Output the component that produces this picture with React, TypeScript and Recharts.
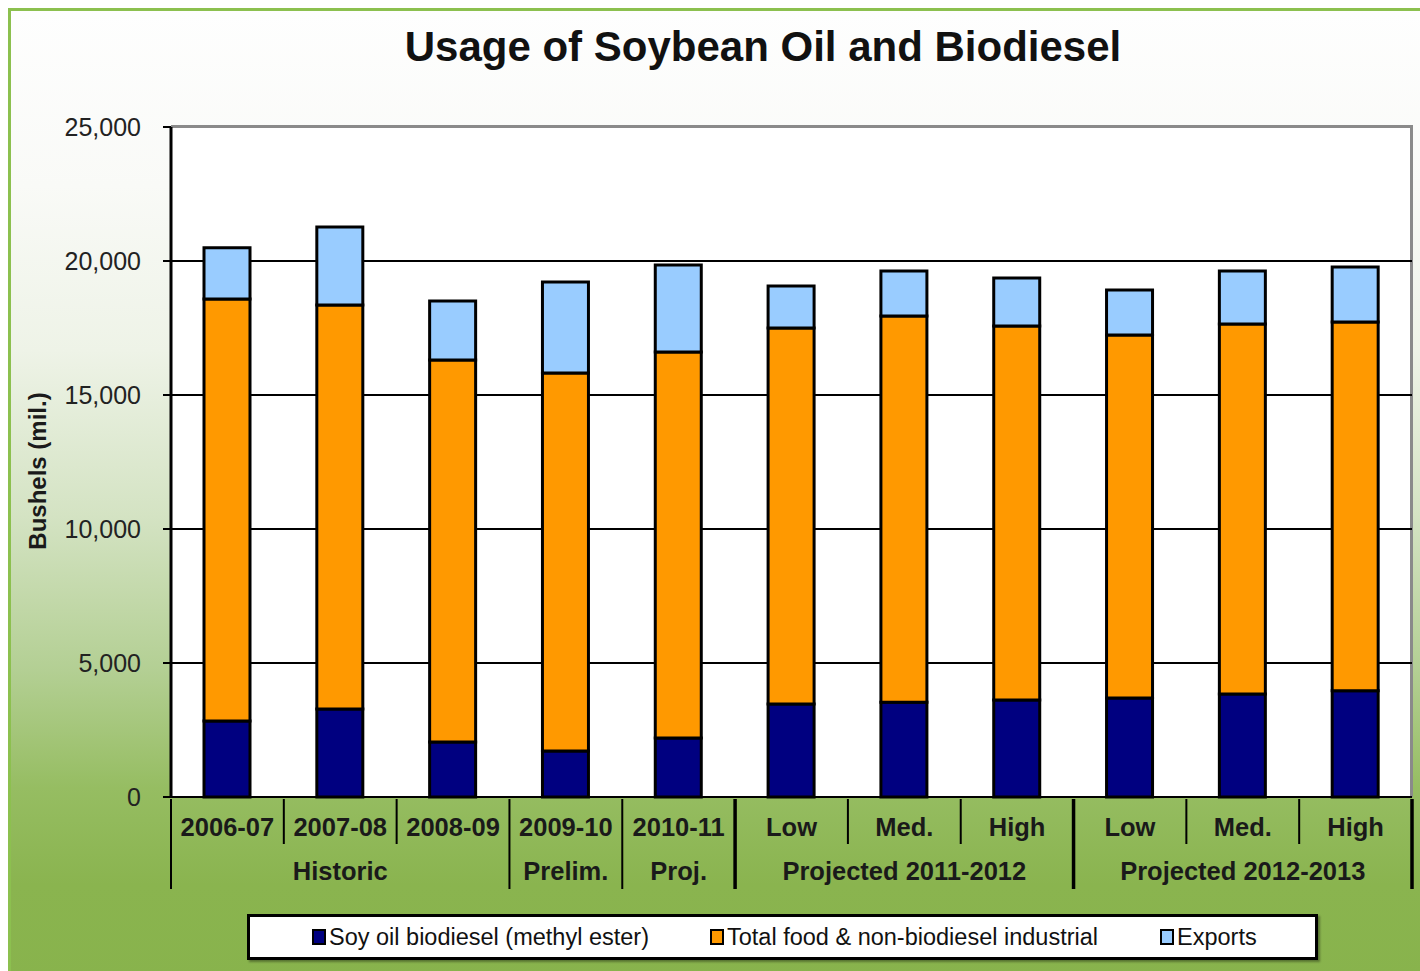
import React from 'react';
import { BarChart, Bar, XAxis, YAxis, CartesianGrid } from 'recharts';

const categories = ['2006-07', '2007-08', '2008-09', '2009-10', '2010-11', 'Low', 'Med.', 'High', 'Low', 'Med.', 'High'];
const groups = ['Historic', 'Historic', 'Historic', 'Prelim.', 'Proj.', 'Projected 2011-2012', 'Projected 2011-2012', 'Projected 2011-2012', 'Projected 2012-2013', 'Projected 2012-2013', 'Projected 2012-2013'];
const biodiesel = [2840, 3280, 2050, 1720, 2200, 3470, 3540, 3620, 3690, 3840, 3960];
const foodIndustrial = [15740, 15080, 14260, 14100, 14400, 14030, 14410, 13950, 13550, 13810, 13760];
const exportsVals = [1910, 2910, 2200, 3400, 3250, 1570, 1680, 1800, 1680, 1980, 2060];
const yTicks = [0, 5000, 10000, 15000, 20000, 25000];

const seriesNames = ['Soy oil biodiesel (methyl ester)', 'Total food & non-biodiesel industrial', 'Exports'];
const seriesColors = ['#000080', '#FF9900', '#99CCFF'];

const data = categories.map((c, i) => ({
  id: String(i),
  bio: biodiesel[i],
  food: foodIndustrial[i],
  exp: exportsVals[i],
}));

const FONT = '"Liberation Sans", Arial, Helvetica, sans-serif';
const W = 1420;
const H = 971;
const M = { top: 127, right: 8, bottom: 74, left: 71 };
const YW = 100;
const XH = 100;
const PLOT_LEFT = M.left + YW;
const PLOT_W = W - M.right - PLOT_LEFT;
const PLOT_TOP = M.top;
const PLOT_H = H - M.top - M.bottom - XH;
const BAND = PLOT_W / categories.length;
const thickBoundaries = new Set([4, 7, 10]);

const XTick = (props: any) => {
  const { x, y, payload } = props;
  const i = Number(payload.value);
  const left = x - BAND / 2;
  const right = x + BAND / 2;
  const groupEnd = i === categories.length - 1 || groups[i] !== groups[i + 1];
  const isMid =
    (i > 0 && groups[i - 1] === groups[i] && i < categories.length - 1 && groups[i + 1] === groups[i]) ||
    ((i === 0 || groups[i - 1] !== groups[i]) && (i === categories.length - 1 || groups[i + 1] !== groups[i]));
  return (
    <g>
      {i === 0 && <line x1={left} x2={left} y1={y} y2={y + 90} stroke="#000" strokeWidth={2} />}
      <line
        x1={right}
        x2={right}
        y1={y}
        y2={groupEnd ? y + 90 : y + 45}
        stroke="#000"
        strokeWidth={thickBoundaries.has(i) ? 3.5 : 2}
      />
      <text x={x} y={y + 28} textAnchor="middle" dominantBaseline="central" fontFamily={FONT} fontWeight="bold" fontSize={25.5} fill="#1a1a1a">
        {categories[i]}
      </text>
      {isMid && (
        <text x={x} y={y + 72} textAnchor="middle" dominantBaseline="central" fontFamily={FONT} fontWeight="bold" fontSize={25.5} fill="#1a1a1a">
          {groups[i]}
        </text>
      )}
    </g>
  );
};

export default function App() {
  return (
    <div style={{ position: 'fixed', left: 0, top: 0, width: W, height: H, overflow: 'hidden', background: '#fff' }}>
      <div
        style={{
          position: 'absolute',
          left: 8,
          top: 8,
          width: W,
          height: H,
          borderLeft: '3px solid #8cc04f',
          borderTop: '3px solid #8cc04f',
          background: 'linear-gradient(to bottom, #fefefe 0%, #f9faf7 18%, #eef3e7 35%, #d4e3c3 52%, #b3cf93 68%, #96bd62 80%, #8ab44f 90%, #88b34c 100%)',
        }}
      />
      <div
        style={{
          position: 'absolute',
          left: PLOT_LEFT,
          top: PLOT_TOP - 2,
          width: PLOT_W + 1,
          height: PLOT_H + 2,
          background: '#fff',
          borderTop: '3px solid #8a8a8a',
          borderRight: '3px solid #8a8a8a',
          boxSizing: 'border-box',
        }}
      />
      <div
        style={{
          position: 'absolute',
          left: 0,
          width: 1526,
          top: 21,
          textAlign: 'center',
          fontFamily: FONT,
          fontWeight: 'bold',
          fontSize: 42,
          lineHeight: '52px',
          color: '#111',
        }}
      >
        Usage of Soybean Oil and Biodiesel
      </div>
      <div
        style={{
          position: 'absolute',
          left: 38,
          top: 471,
          transform: 'translate(-50%, -50%) rotate(-90deg)',
          fontFamily: FONT,
          fontWeight: 'bold',
          fontSize: 24,
          whiteSpace: 'nowrap',
          color: '#1a1a1a',
        }}
      >
        Bushels (mil.)
      </div>
      <div style={{ position: 'absolute', left: 0, top: 0 }}>
        <BarChart width={W} height={H} data={data} margin={M} barSize={46}>
          <CartesianGrid vertical={false} horizontalValues={[5000, 10000, 15000, 20000]} stroke="#000" strokeWidth={1.8} />
          <XAxis
            dataKey="id"
            height={XH}
            tick={<XTick />}
            tickLine={false}
            tickSize={0}
            interval={0}
            axisLine={{ stroke: '#000', strokeWidth: 2 }}
          />
          <YAxis
            width={YW}
            domain={[0, 25000]}
            ticks={yTicks}
            interval={0}
            tickFormatter={(v: number) => v.toLocaleString('en-US')}
            tick={{ fontFamily: FONT, fontSize: 25, fill: '#222' }}
            tickLine={{ stroke: '#000', strokeWidth: 2 }}
            tickSize={8}
            tickMargin={22}
            axisLine={{ stroke: '#000', strokeWidth: 3 }}
          />
          <Bar dataKey="bio" stackId="a" fill={seriesColors[0]} stroke="#000" strokeWidth={3} isAnimationActive={false} name={seriesNames[0]} />
          <Bar dataKey="food" stackId="a" fill={seriesColors[1]} stroke="#000" strokeWidth={3} isAnimationActive={false} name={seriesNames[1]} />
          <Bar dataKey="exp" stackId="a" fill={seriesColors[2]} stroke="#000" strokeWidth={3} isAnimationActive={false} name={seriesNames[2]} />
        </BarChart>
      </div>
      <div
        style={{
          position: 'absolute',
          left: 247,
          top: 914,
          width: 1071,
          height: 46,
          boxSizing: 'border-box',
          border: '3px solid #000',
          background: '#fff',
          boxShadow: '2px 2px 2px rgba(0,0,0,0.35)',
        }}
      >
        {seriesNames.map((n, i) => (
          <div
            key={n}
            style={{
              position: 'absolute',
              left: [62, 460, 910][i],
              top: 0,
              height: 40,
              display: 'flex',
              alignItems: 'center',
              fontFamily: FONT,
              fontSize: 23.5,
              color: '#111',
              whiteSpace: 'nowrap',
            }}
          >
            <span
              style={{
                display: 'inline-block',
                width: 10,
                height: 12,
                background: seriesColors[i],
                border: '2.5px solid #000',
                marginRight: 3,
              }}
            />
            {n}
          </div>
        ))}
      </div>
    </div>
  );
}
